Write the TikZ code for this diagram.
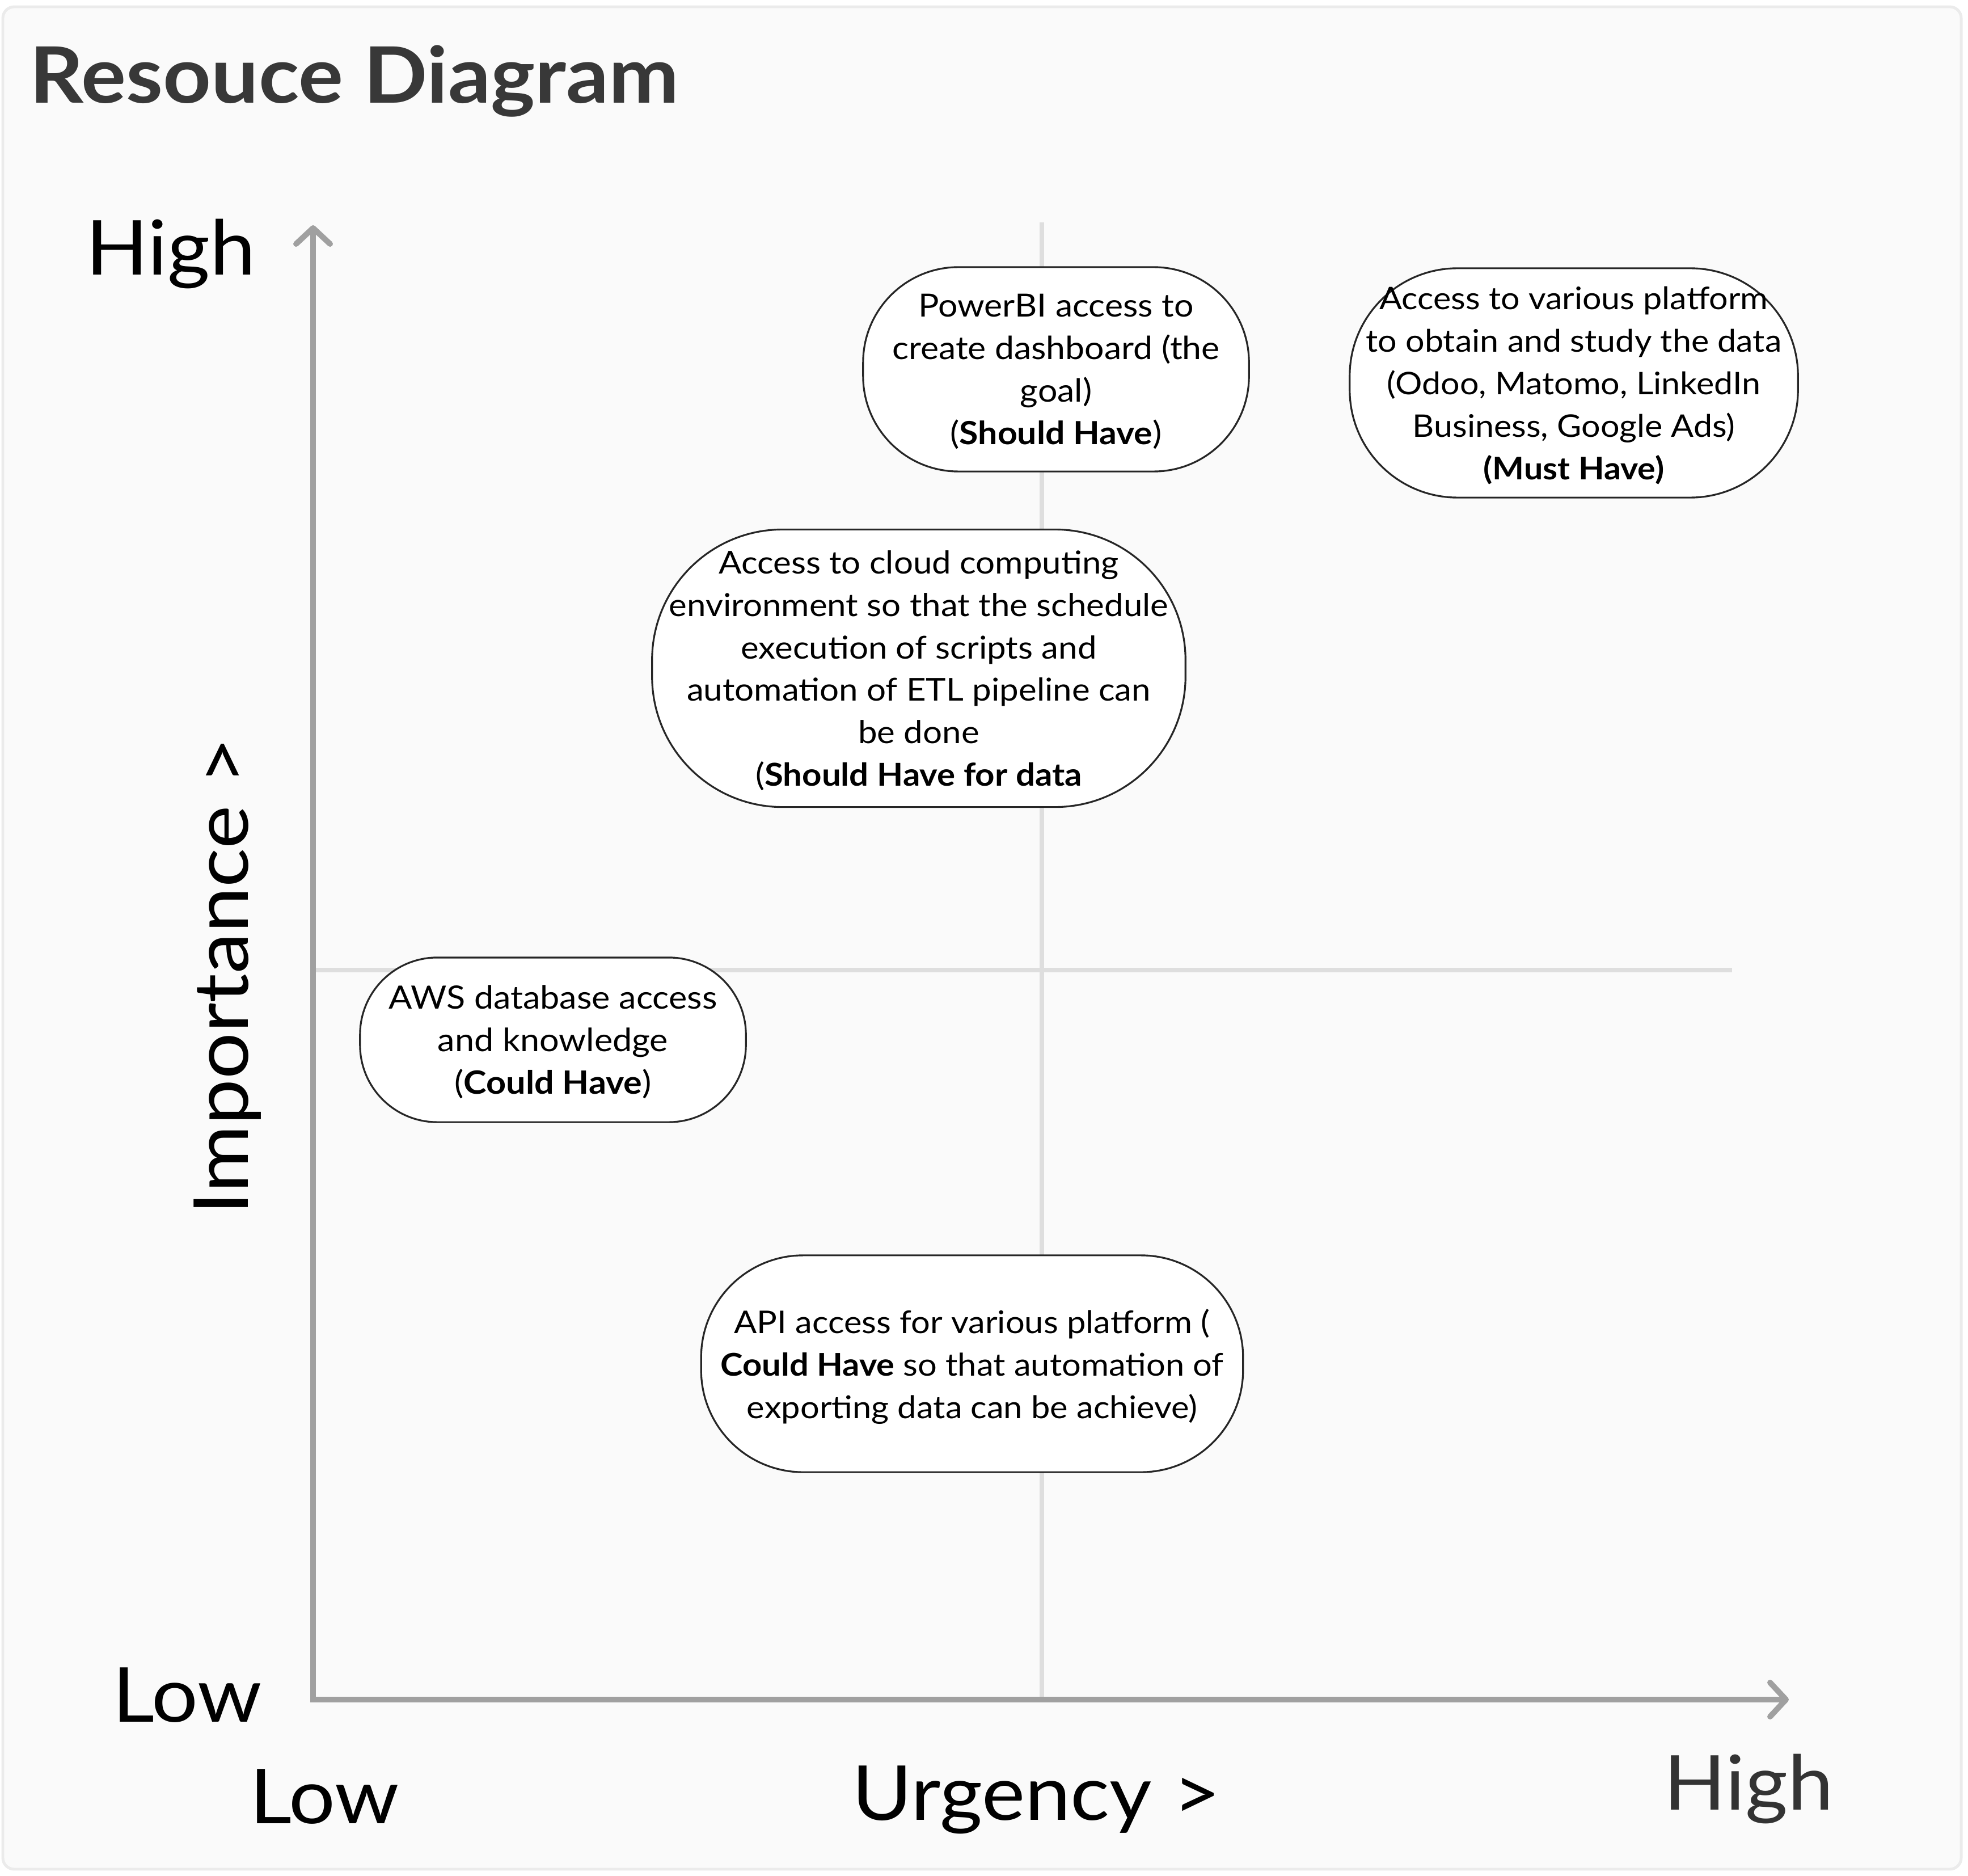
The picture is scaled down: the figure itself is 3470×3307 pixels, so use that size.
\documentclass[tikz,border=0pt]{standalone}
\usepackage{fontspec}
\setmainfont{Lato}[FakeStretch=1.08]
\usetikzlibrary{arrows.meta}
\definecolor{framegray}{HTML}{EBEBEB}
\definecolor{canvasgray}{HTML}{FAFAFA}
\definecolor{axisgray}{HTML}{A0A0A0}
\definecolor{dividergray}{HTML}{DEDEDE}
\definecolor{titlegray}{HTML}{383838}
\definecolor{labelgray}{HTML}{333333}
\newcommand{\bubblefont}[1]{\fontsize{#1}{21.3}\selectfont}

\begin{document}
\begin{tikzpicture}[x=0.01cm, y=-0.01cm,
    axis/.style={draw=axisgray, line width=2.85pt, >={Straight Barb[length=0.28cm, width=0.6cm, round]}, <->},
    divider/.style={draw=dividergray, line width=2.5pt},
    bubble/.style={draw=black!85, fill=white, line width=0.9pt, align=center, inner sep=0pt, text depth=0pt},
    axislabel/.style={font=\fontsize{38}{44}\selectfont, anchor=base, inner sep=0pt}]

	% Canvas and frame
	\useasboundingbox (0,0) rectangle (3470,3307);
	\draw[fill=canvasgray, draw=framegray, line width=1.4pt, rounded corners=0.2cm] (5,12) rectangle (3458,3295);

	% Title
	\node[anchor=base west, inner sep=0pt, text=titlegray, font=\fontsize{39}{44}\selectfont\bfseries] (title) at (52,182) {Resouce Diagram};

	% Quadrant dividers
	\coordinate (vtop) at (1837,392);
	\coordinate (vbot) at (1837,2996);
	\coordinate (hleft) at (552,1710);
	\coordinate (hright) at (3054,1710);
	\draw[divider] (vtop) -- (vbot);
	\draw[divider] (hleft) -- (hright);

	% Axes
	\coordinate (origin) at (552,2996);
	\coordinate (ytip) at (552,397);
	\coordinate (xtip) at (3154,2996);
	\draw[axis] (ytip) -- (origin) -- (xtip);

	% Axis labels
	\node[axislabel] (yhigh) at (301,485) {High};
	\node[axislabel] (ylow) at (330,3035) {Low};
	\node[axislabel, rotate=90] (ytitle) at (437,1721) {Importance >};
	\node[axislabel] (xlow) at (572,3214) {Low};
	\node[axislabel] (xtitle) at (1827,3208) {Urgency >};
	\node[axislabel, text=labelgray] (xhigh) at (3083,3190) {High};

	% Resources
	\node[bubble, minimum width=6.8cm, minimum height=3.6cm, rounded corners=1.68cm, font=\bubblefont{16}] (powerbi) at (1862,651)
		{PowerBI access to\\create dashboard (the\\goal)\\(\textbf{Should Have})};
	\node[bubble, minimum width=7.9cm, minimum height=4.04cm, rounded corners=1.9cm, font=\bubblefont{15.6}] (platform) at (2775,675)
		{Access to various platform\\to obtain and study the data\\(Odoo, Matomo, LinkedIn\\Business, Google Ads)\\\textbf{(Must Have)}};
	\node[bubble, minimum width=9.4cm, minimum height=4.89cm, rounded corners=2.3cm, font=\bubblefont{15.8}] (cloud) at (1620,1178)
		{Access to cloud computing\\environment so that the schedule\\execution of scripts and\\automation of ETL pipeline can\\be done\\(\textbf{Should Have for data}};
	\node[bubble, minimum width=6.8cm, minimum height=2.9cm, rounded corners=1.36cm, font=\bubblefont{16.1}] (aws) at (975,1833)
		{AWS database access\\and knowledge\\(\textbf{Could Have})};
	\node[bubble, minimum width=9.55cm, minimum height=3.82cm, rounded corners=1.8cm, font=\bubblefont{15.7}] (api) at (1714,2404)
		{API access for various platform (\\\textbf{Could Have} so that automation of\\exporting data can be achieve)};

\end{tikzpicture}
\end{document}
